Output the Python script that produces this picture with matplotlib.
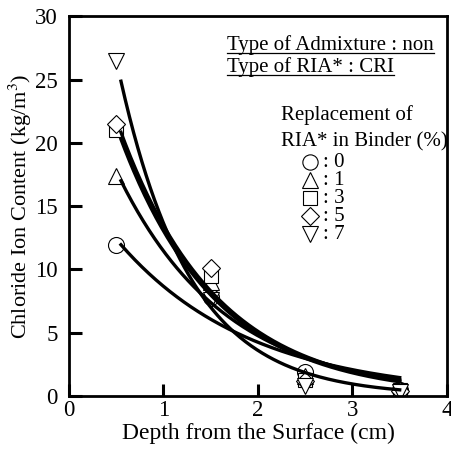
import numpy as np
import matplotlib
matplotlib.use("Agg")
import matplotlib.pyplot as plt

plt.rcParams['font.family'] = ['Liberation Serif', 'DejaVu Serif']
plt.rcParams['mathtext.fontset'] = 'stix'

# depth (cm) and chloride content (kg/m3) per replacement ratio
depth = [0.5, 1.5, 2.5, 3.5]
labels = [': 0', ': 1', ': 3', ': 5', ': 7']
markers = ['o', '^', 's', 'D', 'v']
cl_0 = [11.9, 7.8, 1.9, 0.5]
cl_1 = [17.4, 9.0, 1.6, 0.5]
cl_3 = [21.0, 9.5, 1.3, 0.5]
cl_5 = [21.5, 10.1, 1.2, 0.4]
cl_7 = [26.5, 7.6, 0.8, 0.3]
series = [cl_0, cl_1, cl_3, cl_5, cl_7]

msize = {'o': 11.5, '^': 11.5, 's': 10.5, 'D': 9.5, 'v': 11.5}


def expfit(x, y):
    # least squares fit of y = a*exp(-b*x), grid over b
    x = np.asarray(x); y = np.asarray(y)
    best = None
    for b in np.linspace(0.1, 3.0, 2901):
        e = np.exp(-b * x)
        a = (e @ y) / (e @ e)
        err = np.sum((y - a * e) ** 2)
        if best is None or err < best[0]:
            best = (err, a, b)
    return best[1], best[2]


fig = plt.figure(figsize=(4.51, 4.5), dpi=100)
ax = fig.add_axes([0.153, 0.12, 0.838, 0.844])

xs = np.linspace(0.55, 3.5, 200)
for y, m in zip(series, markers):
    ax.plot(depth, y, linestyle='none', marker=m, ms=msize[m],
            mfc='white', mec='black', mew=0.8, zorder=2)
    a, b = expfit(depth, y)
    ax.plot(xs, a * np.exp(-b * xs), color='black', lw=2.4, zorder=3)

ax.set_xlim(0, 4)
ax.set_ylim(0, 30)
ax.set_xticks([0, 1, 2, 3, 4])
ax.set_yticks([0, 5, 10, 15, 20, 25, 30])
ax.tick_params(direction='in', length=9, width=2.2, labelsize=16.5, pad=3)
ax.tick_params(axis='y', pad=8)
for s in ax.spines.values():
    s.set_linewidth(2)
ax.set_xlabel('Depth from the Surface (cm)', fontsize=17, labelpad=1)
ax.set_ylabel('Chloride Ion Content (kg/m$^3$)', fontsize=16, labelpad=1)

fs = 15
# header notes (underlined)
t1 = ax.text(0.418, 0.924, 'Type of Admixture : non', transform=ax.transAxes,
             ha='left', va='center', fontsize=fs)
t2 = ax.text(0.418, 0.866, 'Type of RIA* : CRI', transform=ax.transAxes,
             ha='left', va='center', fontsize=fs)
ax.text(0.561, 0.739, 'Replacement of', transform=ax.transAxes,
        ha='left', va='center', fontsize=fs)
ax.text(0.561, 0.668, 'RIA* in Binder (%)', transform=ax.transAxes,
        ha='left', va='center', fontsize=fs)

fig.canvas.draw()
r = fig.canvas.get_renderer()
inv = ax.transAxes.inverted()
for t in (t1, t2):
    bb = t.get_window_extent(r)
    (x0, y0), (x1, y1) = inv.transform([[bb.x0, bb.y0], [bb.x1, bb.y1]])
    ax.plot([x0, x1], [y0 + 0.006, y0 + 0.006], transform=ax.transAxes,
            color='black', lw=0.9, clip_on=False)

# marker key
for i, (m, lab) in enumerate(zip(markers, labels)):
    yk = 0.616 - i * 0.0474
    ax.plot([0.638], [yk], transform=ax.transAxes, linestyle='none', marker=m,
            ms=msize[m] - 0.5, mfc='white', mec='black', mew=0.8, clip_on=False)
    ax.text(0.672, yk, lab, transform=ax.transAxes, ha='left', va='center',
            fontsize=fs)

fig.savefig('out.png', dpi=100)
